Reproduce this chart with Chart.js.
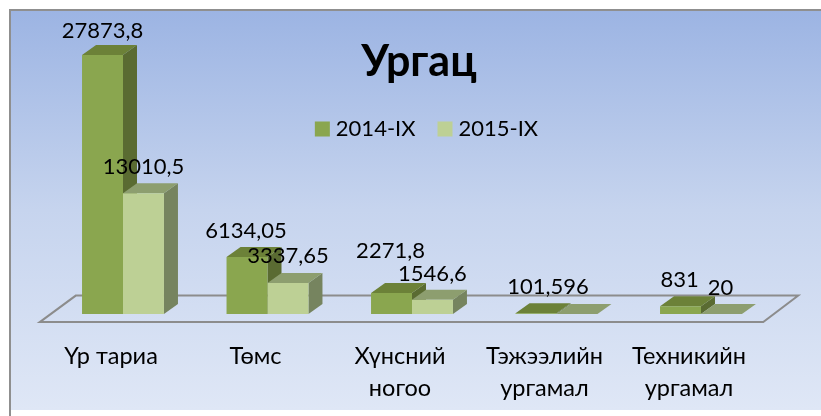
<!DOCTYPE html>
<html><head><meta charset="utf-8">
<style>html,body{margin:0;padding:0;background:#fff}#w{position:relative;width:821px;height:416px}</style>
<script src="https://cdn.jsdelivr.net/npm/chart.js@4"></script></head>
<body><div id="w"><canvas id="c" width="821" height="416"></canvas></div>
<script>
const categories = [['Үр тариа'], ['Төмс'], ['Хүнсний', 'ногоо'], ['Тэжээлийн', 'ургамал'], ['Техникийн', 'ургамал']];
const series2014Name = '2014-IX';
const series2015Name = '2015-IX';
const values2014 = [27873.8, 6134.05, 2271.8, 101.596, 831];
const values2015 = [13010.5, 3337.65, 1546.6, 0, 20];
const chartTitle = 'Ургац';

const FONT = 'Lato, "Noto Sans", sans-serif';
const DX = 14, DY = 10;
const looks = [
  {front:'#8aa64f', top:'#6c8138', side:'#5a6b32'},
  {front:'#bdd095', top:'#8d9e6f', side:'#76845f'}
];
const labelRaise = [[24, 26, 42, 26, 26], [26, 27, 26, 26, 26]];
const labelShift = [[0, -1, -1, 12, -1], [0, 0, 0, 0, -1]];

function poly(ctx, pts, fill){
  ctx.beginPath();
  pts.forEach((p,i)=> i ? ctx.lineTo(p[0],p[1]) : ctx.moveTo(p[0],p[1]));
  ctx.closePath();
  ctx.fillStyle = fill; ctx.fill();
}
const scene = {
  id:'scene',
  beforeInit(chart){
    const f = chart.legend.fit;
    chart.legend.fit = function(){ f.call(this); this.height = 0; };
  },
  afterLayout(chart){
    const l = chart.legend;
    l.top = 91; l.bottom = 165; l.left += 17; l.right += 17;
    const t = chart.titleBlock;
    t.left += 7; t.right += 7;
  },
  beforeDraw(chart){
    const {ctx} = chart;
    const g = ctx.createLinearGradient(0,10,0,410);
    g.addColorStop(0,'#9cb4e3'); g.addColorStop(.5,'#c6d4ee'); g.addColorStop(1,'#dfe7f6');
    ctx.fillStyle = '#fff'; ctx.fillRect(0,0,821,416);
    ctx.fillStyle = g; ctx.fillRect(10,10,811,400);
    ctx.strokeStyle = '#8f8f8f'; ctx.lineWidth = 2;
    ctx.beginPath(); ctx.moveTo(10,416); ctx.lineTo(10,10); ctx.lineTo(821,10); ctx.stroke();
    const a = chart.chartArea, y0 = chart.scales.y.getPixelForValue(0);
    ctx.strokeStyle = '#8c8c8c'; ctx.lineWidth = 2; ctx.lineJoin='miter';
    ctx.beginPath();
    ctx.moveTo(a.left-11, y0+8); ctx.lineTo(a.left+25, y0-18.5); ctx.lineTo(a.right+25, y0-18.5); ctx.lineTo(a.right-10, y0+8);
    ctx.closePath(); ctx.stroke();
  },
  beforeDatasetsDraw(chart){
    const {ctx} = chart;
    chart.data.datasets.forEach((ds,d)=>{
      chart.getDatasetMeta(d).data.forEach(b=>{
        const l = b.x-b.width/2, r = b.x+b.width/2, t = b.y, base = b.base, c = looks[d];
        poly(ctx,[[r,t],[r+DX,t-DY],[r+DX,base-DY],[r,base]],c.side);
        poly(ctx,[[l,t],[l+DX,t-DY],[r+DX,t-DY],[r,t]],c.top);
      });
    });
  },
  afterDatasetsDraw(chart){
    const {ctx} = chart;
    ctx.save();
    ctx.font = '22px '+FONT; ctx.fillStyle='#000'; ctx.textAlign='center'; ctx.textBaseline='middle';
    chart.data.datasets.forEach((ds,d)=>{
      chart.getDatasetMeta(d).data.forEach((b,i)=>{
        const v = ds.data[i];
        if(!v) return;
        ctx.fillText(String(v).replace('.',','), b.x+labelShift[d][i], b.y-labelRaise[d][i]);
      });
    });
    ctx.restore();
  }
};
new Chart(document.getElementById('c'),{
  type:'bar',
  data:{labels:categories,datasets:[
    {label:series2014Name,data:values2014,backgroundColor:looks[0].front},
    {label:series2015Name,data:values2015,backgroundColor:looks[1].front}
  ]},
  options:{
    responsive:false,animation:false,
    layout:{padding:{left:50.75,right:47.75,top:35.2,bottom:-14},autoPadding:false},
    datasets:{bar:{categoryPercentage:.567,barPercentage:1}},
    scales:{
      x:{grid:{display:false,drawTicks:false},border:{display:false},
         ticks:{color:'#000',font:{family:FONT,size:23.5,lineHeight:1.36},padding:26,labelOffset:-12,maxRotation:0,autoSkip:false}},
      y:{display:false,min:0,max:30000}
    },
    plugins:{
      title:{display:true,text:chartTitle,color:'#000',font:{family:FONT,size:43,weight:'bold',lineHeight:1.2},padding:{top:1,bottom:-(1+51.6)}},
      legend:{position:'top',align:'center',labels:{color:'#000',font:{family:FONT,size:22},usePointStyle:true,pointStyle:'rect',boxWidth:5,boxHeight:15,padding:27}},
      tooltip:{enabled:false}
    }
  },
  plugins:[scene]
});
</script></body></html>
